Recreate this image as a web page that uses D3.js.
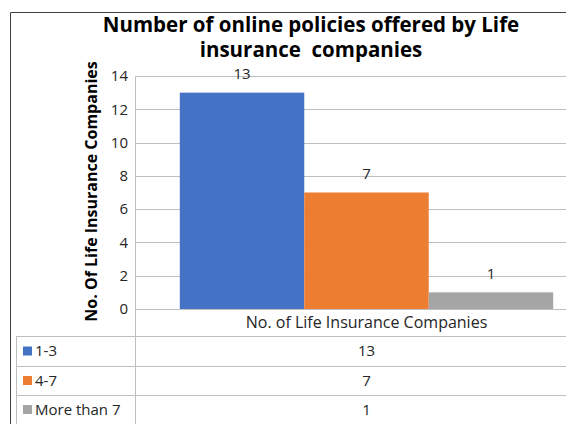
<!DOCTYPE html>
<html>
<head>
<meta charset="utf-8">
<script src="https://cdn.jsdelivr.net/npm/d3@7"></script>
<style>
  html, body { margin: 0; padding: 0; background: #fff; }
  svg { display: block; font-family: "Open Sans", sans-serif; }
</style>
</head>
<body>
<svg id="chart" width="566" height="424"></svg>
<script>
// ─── Data ───
const category = "No. of Life Insurance Companies";
const series = ["1-3", "4-7", "More than 7"];
const values = [13, 7, 1];
const colors = ["#4472c4", "#ed7d31", "#a5a5a5"];
const yTicks = [0, 2, 4, 6, 8, 10, 12, 14];
const titleLines = ["Number of online policies offered by Life", "insurance  companies"];
const yTitle = "No. Of Life Insurance Companies";

const W = 566, H = 424;
const PLOT = { left: 135, right: 598, top: 76, bottom: 309 };
const ROWS = [336, 366, 395, 424]; // table row bottoms
const GRID = "#bfbfbf";
const FONT = "'Open Sans', sans-serif";

const svg = d3.select("#chart");

// outer chart border (right/bottom are cropped in the reference)
svg.append("path")
  .attr("d", `M10.5,${H + 2} V12.5 H${W + 2}`)
  .attr("fill", "none")
  .attr("stroke", "#404040")
  .attr("stroke-width", 1);

// ─── Title (two separate lines) ───
svg.selectAll("text.title")
  .data(titleLines)
  .join("text")
  .attr("class", "title")
  .attr("x", 311)
  .attr("y", (d, i) => 32 + i * 25)
  .attr("text-anchor", "middle")
  .attr("font-size", "20.5px")
  .attr("font-weight", 700)
  .attr("fill", "#000")
  .attr("xml:space", "preserve")
  .text((d) => d);

// ─── Scales ───
const y = d3.scaleLinear().domain([0, 14]).range([PLOT.bottom, PLOT.top]);
const x0 = d3.scaleBand()
  .domain([category])
  .range([PLOT.left, PLOT.right])
  .paddingInner(0)
  .paddingOuter(0.12);
const x1 = d3.scaleBand().domain(series).range([0, x0.bandwidth()]).padding(0);

// Grid lines
svg.append("g")
  .attr("transform", `translate(${PLOT.left},0)`)
  .call(d3.axisLeft(y).tickValues(yTicks).tickSize(-(PLOT.right - PLOT.left)).tickFormat(""))
  .call((g) => g.select(".domain").remove())
  .call((g) => g.selectAll("line").attr("stroke", GRID).attr("shape-rendering", "crispEdges"));

// Y axis labels
svg.append("g")
  .attr("transform", `translate(${PLOT.left},0)`)
  .call(d3.axisLeft(y).tickValues(yTicks).tickSize(0).tickPadding(7))
  .call((g) => g.select(".domain").remove())
  .call((g) => g.selectAll("text")
    .attr("font-size", "15px")
    .attr("font-family", FONT)
    .attr("fill", "#262626"));

// Y title
svg.append("text")
  .attr("transform", `translate(97,${(PLOT.top + PLOT.bottom) / 2 - 1}) rotate(-90)`)
  .attr("text-anchor", "middle")
  .attr("font-size", "16px")
  .attr("font-weight", 700)
  .attr("fill", "#000")
  .text(yTitle);

// ─── Bars ───
const barG = svg.append("g").attr("transform", `translate(${x0(category)},0)`);
barG.selectAll("rect")
  .data(series.map((s, i) => ({ name: s, value: values[i], color: colors[i] })))
  .join("rect")
  .attr("x", (d) => x1(d.name))
  .attr("y", (d) => y(d.value))
  .attr("width", x1.bandwidth())
  .attr("height", (d) => y(0) - y(d.value))
  .attr("fill", (d) => d.color);

// Data labels
barG.selectAll("text.bar-value")
  .data(series.map((s, i) => ({ name: s, value: values[i] })))
  .join("text")
  .attr("class", "bar-value")
  .attr("x", (d) => x1(d.name) + x1.bandwidth() / 2)
  .attr("y", (d) => y(d.value) - 19)
  .attr("dy", "0.35em")
  .attr("text-anchor", "middle")
  .attr("font-size", "15px")
  .attr("fill", "#262626")
  .text((d) => d.value);

// ─── Data table ───
const lines = svg.append("g")
  .attr("stroke", GRID)
  .attr("shape-rendering", "crispEdges");

// x axis line / header top
lines.append("line")
  .attr("x1", PLOT.left).attr("x2", W + 2)
  .attr("y1", y(0)).attr("y2", y(0));
// vertical axis / table divider
lines.append("line")
  .attr("x1", PLOT.left).attr("x2", PLOT.left)
  .attr("y1", PLOT.top).attr("y2", H + 2);
// table left edge
lines.append("line")
  .attr("x1", 16).attr("x2", 16)
  .attr("y1", ROWS[0]).attr("y2", H + 2);
// row separators
lines.selectAll("line.row")
  .data(ROWS)
  .join("line")
  .attr("class", "row")
  .attr("x1", 16).attr("x2", W + 2)
  .attr("y1", (d) => d).attr("y2", (d) => d);

// header (category name)
svg.append("text")
  .attr("x", x0(category) + x0.bandwidth() / 2)
  .attr("y", (y(0) + ROWS[0]) / 2)
  .attr("dy", "0.35em")
  .attr("text-anchor", "middle")
  .attr("font-size", "16px")
  .attr("fill", "#262626")
  .text(category);

const rowTops = [ROWS[0], ROWS[1], ROWS[2]];
const rows = svg.selectAll("g.trow")
  .data(series.map((s, i) => ({ name: s, value: values[i], color: colors[i], top: rowTops[i], bottom: ROWS[i + 1] })))
  .join("g")
  .attr("class", "trow");

rows.append("rect")
  .attr("x", 23)
  .attr("y", (d) => (d.top + d.bottom) / 2 - 4.5)
  .attr("width", 9)
  .attr("height", 9)
  .attr("fill", (d) => d.color);

rows.append("text")
  .attr("x", 35)
  .attr("y", (d) => (d.top + d.bottom) / 2)
  .attr("dy", "0.35em")
  .attr("font-size", "15px")
  .attr("fill", "#262626")
  .text((d) => d.name);

rows.append("text")
  .attr("x", x0(category) + x0.bandwidth() / 2)
  .attr("y", (d) => (d.top + d.bottom) / 2)
  .attr("dy", "0.35em")
  .attr("text-anchor", "middle")
  .attr("font-size", "15px")
  .attr("fill", "#262626")
  .text((d) => d.value);
</script>
</body>
</html>
